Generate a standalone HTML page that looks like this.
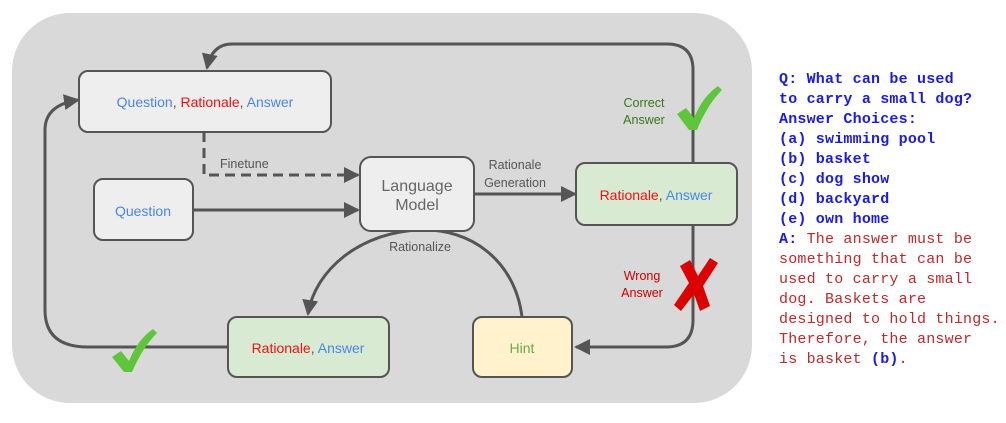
<!DOCTYPE html>
<html><head><meta charset="utf-8"><style>
html,body{margin:0;padding:0;background:#fff;width:1006px;height:423px;overflow:hidden;position:relative}
svg{position:absolute;left:0;top:0}
.t{font-family:"Liberation Sans",sans-serif}
#qa{position:absolute;left:779px;top:70px;font-family:"Liberation Mono",monospace;font-size:15px;line-height:20px;letter-spacing:0.2px;font-weight:bold;white-space:pre;color:#1a1aee}
.r{color:#c0282a;font-weight:normal}
</style></head><body>
<svg width="1006" height="423" viewBox="0 0 1006 423">
<defs>
<marker id="ah2" markerWidth="16" markerHeight="16" refX="14" refY="8" orient="auto" markerUnits="userSpaceOnUse" viewBox="0 0 16 16">
<path d="M0,0 L16,8 L0,16 z" fill="#555"/></marker>
</defs>
<rect x="12" y="13" width="740" height="390" rx="58" fill="#d9d9d9"/>
<g fill="none" stroke="#555" stroke-width="3">
<path d="M693,163 V70 Q693,44 667,44 H232 Q212,44 207,68" marker-end="url(#ah2)"/>
<path d="M693,225 V320 Q693,347 666,347 H576" marker-end="url(#ah2)"/>
<path d="M228,347 H88 Q45,347 45,310 V130 Q45,105 78,100" marker-end="url(#ah2)"/>
<path d="M204,132 V175 H358" stroke-dasharray="10,6" marker-end="url(#ah2)"/>
<path d="M193,210 H358" marker-end="url(#ah2)"/>
<path d="M474,194 H575" marker-end="url(#ah2)"/>
<path d="M522,317 C515,260 470,228 420,230 C360,232 315,270 308,314" marker-end="url(#ah2)"/>
</g>
<g stroke="#555" stroke-width="2">
<rect x="79" y="71" width="252" height="61" rx="9" fill="#eeeeee"/>
<rect x="94" y="179" width="99" height="61" rx="9" fill="#eeeeee"/>
<rect x="360" y="157" width="114" height="74" rx="11" fill="#eeeeee"/>
<rect x="576" y="163" width="161" height="62" rx="9" fill="#d9ead3"/>
<rect x="228" y="317" width="161" height="60" rx="9" fill="#d9ead3"/>
<rect x="473" y="317" width="99" height="60" rx="9" fill="#fff2cc"/>
</g>
<g class="t" font-size="14">
<text x="205" y="107" text-anchor="middle"><tspan fill="#4a86e8">Question</tspan><tspan fill="#555">, </tspan><tspan fill="#ee1111">Rationale</tspan><tspan fill="#555">, </tspan><tspan fill="#4a86e8">Answer</tspan></text>
<text x="143" y="216" text-anchor="middle" fill="#4a86e8">Question</text>
<text x="417" y="191" text-anchor="middle" fill="#666" font-size="16">Language</text>
<text x="417" y="210" text-anchor="middle" fill="#666" font-size="16">Model</text>
<text x="656" y="200" text-anchor="middle"><tspan fill="#ee1111">Rationale</tspan><tspan fill="#555">, </tspan><tspan fill="#4a86e8">Answer</tspan></text>
<text x="308" y="353" text-anchor="middle"><tspan fill="#ee1111">Rationale</tspan><tspan fill="#555">, </tspan><tspan fill="#4a86e8">Answer</tspan></text>
<text x="522" y="353" text-anchor="middle" fill="#6aa84f">Hint</text>
</g>
<g class="t" font-size="12.5" fill="#555">
<text x="220" y="168">Finetune</text>
<text x="515" y="169" text-anchor="middle">Rationale</text>
<text x="515" y="187" text-anchor="middle">Generation</text>
<text x="420" y="251" text-anchor="middle">Rationalize</text>
<text x="644" y="107" text-anchor="middle" fill="#38761d">Correct</text>
<text x="644" y="124" text-anchor="middle" fill="#38761d">Answer</text>
<text x="642" y="280" text-anchor="middle" fill="#cc0000">Wrong</text>
<text x="642" y="297" text-anchor="middle" fill="#cc0000">Answer</text>
</g>
<path d="M677,114 L686,108 L694,118 C700,103 708,93 718,86 L722,90 C712,100 704,113 697,130 L689,130 Z" fill="#5fc63c"/>
<path d="M112,357 L121,351 L129,361 C135,346 143,336 153,329 L157,333 C147,343 139,356 132,372 L124,372 Z" fill="#5fc63c"/>
<path d="M680,266 L690,260 L698,276 L710,258 L718,263 L703,286 L710,306 L700,311 L694,294 L681,311 L674,305 L689,283 Z" fill="#dd0000"/>
</svg>
<div id="qa">Q: What can be used
to carry a small dog?
Answer Choices:
(a) swimming pool
(b) basket
(c) dog show
(d) backyard
(e) own home
A: <span class="r">The answer must be
something that can be
used to carry a small
dog. Baskets are
designed to hold things.
Therefore, the answer
is basket </span>(b)<span class="r">.</span></div>
</body></html>
